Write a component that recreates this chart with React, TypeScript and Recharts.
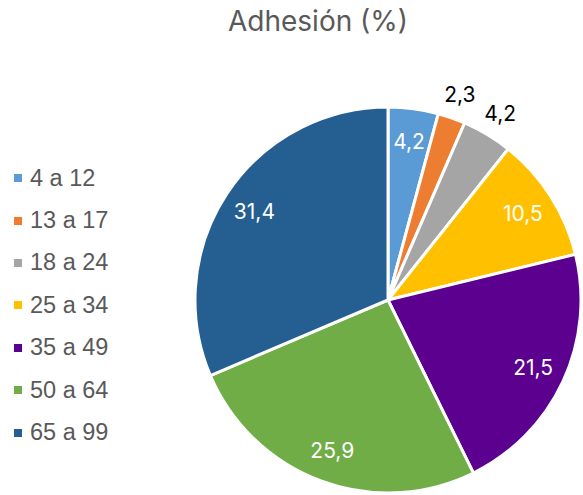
import { PieChart, Pie, Cell } from 'recharts';

const categories = ['4 a 12', '13 a 17', '18 a 24', '25 a 34', '35 a 49', '50 a 64', '65 a 99'];
const adhesion = [4.2, 2.3, 4.2, 10.5, 21.5, 25.9, 31.4];
const labelInside = [true, false, false, true, true, true, true];
const colors = ['#5B9BD5', '#ED7D31', '#A5A5A5', '#FFC000', '#5B008F', '#70AD47', '#255E91'];

const data = categories.map((name, i) => ({ name, value: adhesion[i] }));

const RADIAN = Math.PI / 180;

const renderLabel = (props: any) => {
  const { cx, cy, midAngle, outerRadius, index, value } = props;
  const inside = labelInside[index];
  const r = inside ? outerRadius * 0.83 : outerRadius + 25;
  const x = cx + r * Math.cos(-midAngle * RADIAN);
  const y = cy + r * Math.sin(-midAngle * RADIAN);
  return (
    <text
      x={x}
      y={y}
      fill={inside ? '#ffffff' : '#000000'}
      textAnchor="middle"
      dominantBaseline="central"
      fontFamily="Inter, sans-serif"
      fontSize={21}
    >
      {String(value).replace('.', ',')}
    </text>
  );
};

export default function App() {
  return (
    <div style={{ position: 'absolute', left: 0, top: 0, width: 583, height: 495, background: '#fff' }}>
      <div
        style={{
          position: 'absolute',
          left: 0,
          top: 4,
          width: 636,
          textAlign: 'center',
          fontFamily: 'Inter, sans-serif',
          fontSize: 28,
          color: '#595959',
        }}
      >
        Adhesión (%)
      </div>
      <div
        style={{
          position: 'absolute',
          left: 14,
          top: 157,
          fontFamily: '"Liberation Sans", Arial, sans-serif',
          fontSize: 23.5,
          color: '#595959',
        }}
      >
        {categories.map((c, i) => (
          <div key={c} style={{ display: 'flex', alignItems: 'center', height: 42.4 }}>
            <span
              style={{ display: 'inline-block', width: 8, height: 8, background: colors[i], marginRight: 8 }}
            />
            <span>{c}</span>
          </div>
        ))}
      </div>
      <PieChart width={583} height={495} style={{ position: 'absolute', left: 0, top: 0 }}>
        <Pie
          data={data}
          dataKey="value"
          nameKey="name"
          cx={383}
          cy={295}
          outerRadius={193}
          startAngle={90}
          endAngle={-270}
          stroke="#ffffff"
          strokeWidth={3}
          label={renderLabel}
          labelLine={false}
          isAnimationActive={false}
        >
          {data.map((d, i) => (
            <Cell key={d.name} fill={colors[i]} />
          ))}
        </Pie>
      </PieChart>
    </div>
  );
}
